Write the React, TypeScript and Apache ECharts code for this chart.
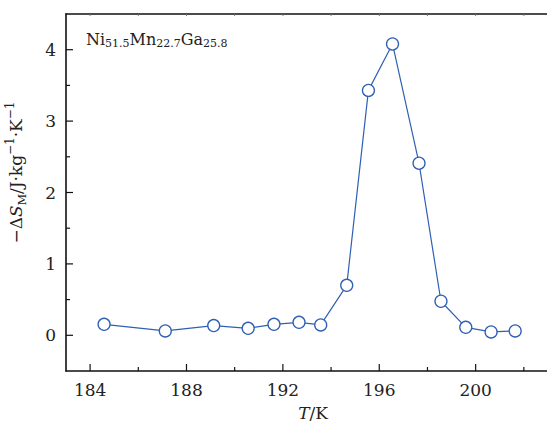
import React, { useEffect, useRef } from "react";
import * as echarts from "echarts";

const temperature = [184.58, 187.12, 189.13, 190.56, 191.63, 192.67, 193.57, 194.65, 195.55, 196.55, 197.65, 198.56, 199.59, 200.64, 201.64];
const entropyChange = [0.154, 0.061, 0.136, 0.098, 0.154, 0.182, 0.145, 0.7, 3.43, 4.08, 2.41, 0.477, 0.112, 0.047, 0.061];
const xMajorTicks = [184, 188, 192, 196, 200];
const xMinorTicks = [186, 190, 194, 198, 202];
const xTopTicks = [184, 186, 188, 190, 192, 194, 196, 198, 200, 202];
const yMajorTicks = [0, 1, 2, 3, 4];
const yMinorTicks = [0.5, 1.5, 2.5, 3.5];

const FONT = "DejaVu Serif";
const BLUE = "#2f5fb3";
const X_MIN = 183;
const X_MAX = 203.5;
const Y_MIN = -0.5;
const Y_MAX = 4.5;

// a custom series that draws inward tick marks through the axes' own scales
const tickSeries = (
  values: number[],
  dir: "up" | "down" | "right",
  len: number,
  color = "#111",
  width = 1.2
) => ({
  type: "custom",
  silent: true,
  clip: false,
  z: 10,
  tooltip: { show: false },
  data: values.map((v) => (dir === "right" ? [X_MIN, v] : [v, dir === "up" ? Y_MIN : Y_MAX])),
  renderItem: (_params: any, api: any) => {
    const p = api.coord([api.value(0), api.value(1)]);
    const x2 = dir === "right" ? p[0] + len : p[0];
    const y2 = dir === "up" ? p[1] - len : dir === "down" ? p[1] + len : p[1];
    return {
      type: "line",
      shape: { x1: p[0], y1: p[1], x2, y2 },
      style: { stroke: color, lineWidth: width },
    };
  },
});

export default function App() {
  const ref = useRef<HTMLDivElement>(null);
  useEffect(() => {
    if (!ref.current) return;
    const chart = echarts.init(ref.current, null, { renderer: "svg" });
    const axisLine = { show: true, onZero: false, lineStyle: { color: "#111", width: 1.6 } };
    chart.setOption({
      animation: false,
      backgroundColor: "#fff",
      textStyle: { fontFamily: FONT },
      grid: { left: 66, right: -13, top: 14, bottom: 54, containLabel: false, outerBoundsMode: "none" },
      xAxis: [
        {
          type: "value",
          position: "bottom",
          min: X_MIN,
          max: X_MAX,
          axisLine,
          splitLine: { show: false },
          axisTick: { show: false },
          axisLabel: { show: true, customValues: xMajorTicks, margin: 10, fontSize: 17, color: "#222", fontFamily: FONT },
          name: "{i|T}{n|/K}",
          nameLocation: "middle",
          nameGap: 33,
          nameTextStyle: {
            rich: {
              i: { fontSize: 17, fontStyle: "italic", fontFamily: FONT, color: "#222" },
              n: { fontSize: 17, fontFamily: FONT, color: "#222" },
            },
          },
        },
        {
          type: "value",
          position: "top",
          min: X_MIN,
          max: X_MAX,
          axisLine,
          splitLine: { show: false },
          axisTick: { show: false },
          axisLabel: { show: false },
        },
      ],
      yAxis: [
        {
          type: "value",
          position: "left",
          min: Y_MIN,
          max: Y_MAX,
          axisLine,
          splitLine: { show: false },
          axisTick: { show: false },
          axisLabel: { show: true, customValues: yMajorTicks, margin: 10, fontSize: 17, color: "#222", fontFamily: FONT },
          name: "{n|−Δ}{i|S}{sub|M}{n|/J·kg}{sup|−1}{n|·K}{sup|−1}",
          nameLocation: "middle",
          nameGap: 38,
          nameRotate: 90,
          nameTextStyle: {
            padding: [0, 0, 0, 40],
            rich: {
              n: { fontSize: 17, lineHeight: 24, fontFamily: FONT, color: "#222" },
              i: { fontSize: 17, lineHeight: 24, fontStyle: "italic", fontFamily: FONT, color: "#222" },
              sub: { fontSize: 11, lineHeight: 11, verticalAlign: "bottom", fontFamily: FONT, color: "#222" },
              sup: { fontSize: 12, lineHeight: 12, verticalAlign: "top", fontFamily: FONT, color: "#222" },
            },
          },
        },
      ],
      graphic: [
        {
          type: "text",
          left: 86,
          top: 31,
          style: {
            text: "{n|Ni}{s|51.5}{n|Mn}{s|22.7}{n|Ga}{s|25.8}",
            rich: {
              n: { fontSize: 16, lineHeight: 20, fontFamily: FONT, fill: "#222" },
              s: { fontSize: 11, lineHeight: 11, verticalAlign: "bottom", fontFamily: FONT, fill: "#222" },
            },
          },
        },
      ],
      series: [
        {
          type: "line",
          xAxisIndex: 0,
          yAxisIndex: 0,
          data: temperature.map((t, i) => [t, entropyChange[i]]),
          symbol: "circle",
          symbolSize: 12,
          lineStyle: { color: BLUE, width: 1.2 },
          itemStyle: { color: "#fff", borderColor: BLUE, borderWidth: 1.3 },
          z: 3,
        },
        tickSeries(xMajorTicks, "up", 7),
        tickSeries(xMinorTicks, "up", 4),
        tickSeries(xTopTicks, "down", 2, "#777", 1),
        tickSeries(yMajorTicks, "right", 7),
        tickSeries(yMinorTicks, "right", 4),
      ],
    });
    return () => chart.dispose();
  }, []);
  return <div ref={ref} style={{ position: "absolute", left: 0, top: 0, width: 547, height: 425 }} />;
}
